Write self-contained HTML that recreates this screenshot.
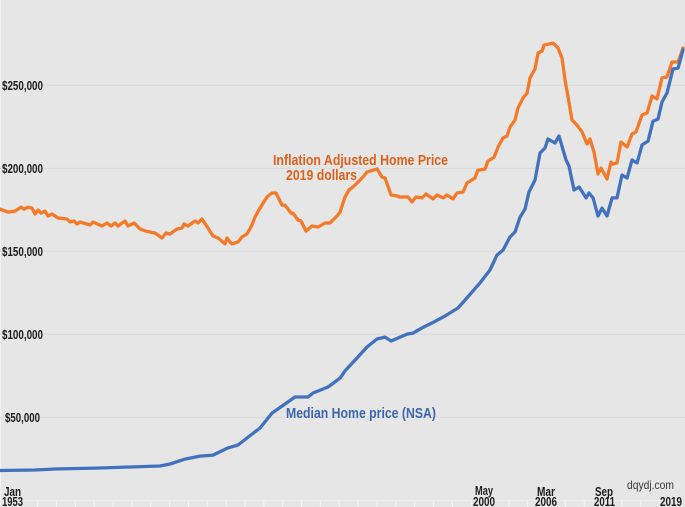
<!DOCTYPE html>
<html lang="en">
<head>
<meta charset="utf-8">
<title>Median and Inflation Adjusted Home Price</title>
<style>
html,body{margin:0;padding:0;background:#e6e6e6;overflow:hidden}
#chart{display:block;width:685px;height:507px;font-family:"Liberation Sans",sans-serif;filter:blur(0.35px)}
.lab{font-weight:bold;font-size:13px;fill:#1c1c1c}
.note{font-weight:bold;font-size:15px}
</style>
</head>
<body>
<svg id="chart" xmlns="http://www.w3.org/2000/svg" width="685" height="507" viewBox="0 0 685 507">
<rect x="0" y="0" width="685" height="507" fill="#e6e6e6"/>
<rect x="0" y="0" width="0.8" height="507" fill="#f4f4f4"/>
<g id="grid"></g>
<g id="ticks"></g>
<g id="ylabels"></g>
<path id="orange-line" fill="none" stroke="#f47a2a" stroke-width="3.3" stroke-linejoin="round" stroke-linecap="round"/>
<path id="blue-line" fill="none" stroke="#4271bd" stroke-width="3.3" stroke-linejoin="round" stroke-linecap="round"/>
<g>
<text class="note" x="273" y="165" fill="#dc611c" textLength="175" lengthAdjust="spacingAndGlyphs">Inflation Adjusted Home Price</text>
<text class="note" x="286" y="180" fill="#dc611c" textLength="71" lengthAdjust="spacingAndGlyphs">2019 dollars</text>
<text class="note" x="286" y="418" fill="#3d66ae" textLength="150" lengthAdjust="spacingAndGlyphs">Median Home price (NSA)</text>
</g>
<g>
<text class="lab" x="4" y="496" textLength="17" lengthAdjust="spacingAndGlyphs">Jan</text>
<text class="lab" x="2" y="506" textLength="21" lengthAdjust="spacingAndGlyphs">1953</text>
<text class="lab" x="475" y="495" textLength="18" lengthAdjust="spacingAndGlyphs">May</text>
<text class="lab" x="473" y="506" textLength="22" lengthAdjust="spacingAndGlyphs">2000</text>
<text class="lab" x="537" y="496" textLength="18" lengthAdjust="spacingAndGlyphs">Mar</text>
<text class="lab" x="535" y="506" textLength="22" lengthAdjust="spacingAndGlyphs">2006</text>
<text class="lab" x="595" y="496" textLength="18" lengthAdjust="spacingAndGlyphs">Sep</text>
<text class="lab" x="594" y="506" textLength="21" lengthAdjust="spacingAndGlyphs">2011</text>
<text class="lab" x="660" y="506" textLength="22" lengthAdjust="spacingAndGlyphs">2019</text>
</g>
<text x="627" y="489" font-size="12" fill="#3a3a3a" textLength="47" lengthAdjust="spacingAndGlyphs">dqydj.com</text>
</svg>
<script>
const yTickValues = [50000, 100000, 150000, 200000, 250000];
const yTickLabels = ["$50,000", "$100,000", "$150,000", "$200,000", "$250,000"];

const medianYears = [1953.0,1956.4,1958.35,1962.73,1965.65,1968.56,1969.54,1971.0,1972.46,1973.72,1975.18,1976.15,1977.03,1978.29,1979.46,1980.72,1981.7,1982.96,1983.45,1984.91,1986.08,1986.56,1987.73,1988.7,1989.67,1990.45,1991.04,1992.59,1993.18,1994.05,1995.03,1996.29,1997.55,1998.24,1999.69,2000.67,2001.35,2001.93,2002.61,2003.1,2003.59,2004.07,2004.46,2005.04,2005.53,2006.02,2006.31,2006.99,2007.38,2008.06,2008.35,2008.84,2009.33,2010.01,2010.3,2010.69,2011.17,2011.56,2012.05,2012.54,2013.02,2013.51,2014.0,2014.48,2014.97,2015.45,2016.04,2016.52,2017.01,2017.4,2017.88,2018.47,2018.96,2019.44];
const medianValues = [18000,18300,18900,19500,20100,20700,21900,24900,26700,27300,31600,33400,37600,43600,52600,58100,62300,62300,64700,68300,73700,78000,85800,92400,97200,98400,96000,100200,100800,103900,106900,111100,115900,120700,131000,138800,147800,150800,158700,161700,170700,175500,185800,193000,209300,212300,217700,215300,219500,205100,201400,187000,188800,182200,185200,182200,171300,176100,171300,182200,182200,196000,194200,205100,203300,214100,216500,228500,229700,240000,245400,259900,260500,271300];

const adjustedYears = [1953.0,1953.78,1954.46,1955.04,1955.33,1955.72,1956.11,1956.4,1956.7,1956.99,1957.38,1957.67,1958.06,1958.64,1959.52,1959.81,1960.2,1960.49,1960.78,1961.76,1962.05,1962.92,1963.41,1963.8,1964.19,1964.48,1965.16,1965.45,1966.04,1966.62,1967.11,1968.08,1968.76,1969.15,1969.54,1970.22,1970.71,1970.9,1971.29,1971.97,1972.26,1972.65,1973.23,1973.72,1974.21,1974.89,1975.08,1975.37,1975.57,1976.15,1976.54,1977.03,1977.51,1977.81,1978.29,1978.97,1979.46,1979.85,1980.43,1980.72,1981.31,1981.5,1981.99,1982.28,1982.77,1983.35,1983.94,1984.62,1985.1,1985.78,1986.08,1986.56,1986.95,1987.34,1987.83,1988.31,1988.7,1989.67,1990.16,1990.45,1991.04,1991.62,1991.91,1992.4,1992.69,1993.08,1993.47,1994.05,1994.44,1995.12,1995.51,1996.1,1996.48,1997.07,1997.46,1998.04,1998.43,1999.21,1999.5,2000.18,2000.47,2001.06,2001.45,2001.93,2002.32,2002.61,2003.1,2003.39,2003.88,2004.27,2004.56,2005.04,2005.34,2005.73,2005.92,2006.8,2007.28,2007.67,2007.96,2008.26,2008.64,2009.13,2009.62,2010.1,2010.39,2010.78,2011.17,2011.47,2012.05,2012.44,2012.63,2013.02,2013.41,2014.0,2014.48,2014.87,2015.45,2015.94,2016.43,2016.91,2017.4,2017.88,2018.37,2018.96,2019.44];
const adjustedValues = [175500,173700,174300,176700,175500,176700,176100,172500,174900,173100,174300,171300,172500,170100,169500,167700,168300,166500,167700,165900,167700,165300,167100,165300,167100,165300,168300,165300,167100,163500,162300,161100,158100,161100,160500,163500,164100,166500,165300,168300,167100,169500,164100,159300,158100,154500,158100,155700,154500,155700,158700,160500,165900,170700,176100,182800,185200,185200,177900,177900,173100,173100,168900,168300,162300,165300,164700,167100,167100,171300,173700,182800,187000,188800,191800,194800,197800,199700,194800,194200,184000,183400,182800,182800,182800,179800,182800,182200,184600,181600,184000,182200,184000,181600,185200,185800,191200,194200,199000,199600,204400,206800,212900,218300,219500,224900,229100,236400,242400,245400,254500,259900,269500,270700,274300,275500,272500,266500,253300,243000,229100,226100,221900,214700,217700,209900,196600,200200,193600,203800,202600,203300,215900,212900,220700,221900,232200,233400,243600,241800,254500,255100,264100,264100,272500];

const NS = "http://www.w3.org/2000/svg";
function xScale(year) { return (year - 1953) * 10.28; }
function yScale(value) { return 500.4 - value * 83 / 50000; }
function linePath(years, values) {
  return years.map(function (yr, i) {
    return (i ? "L" : "M") + xScale(yr).toFixed(1) + " " + yScale(values[i]).toFixed(1);
  }).join("");
}

document.getElementById("orange-line").setAttribute("d", linePath(adjustedYears, adjustedValues));
document.getElementById("blue-line").setAttribute("d", linePath(medianYears, medianValues));

const grid = document.getElementById("grid");
const ylabels = document.getElementById("ylabels");
yTickValues.forEach(function (v, i) {
  const y = yScale(v);
  const line = document.createElementNS(NS, "line");
  
  
  line.setAttribute("x1", 0);
  line.setAttribute("x2", 685);
  line.setAttribute("y1", y);
  line.setAttribute("y2", y);
  line.setAttribute("stroke", "#dcdcdc");
  line.setAttribute("stroke-width", "1.2");
  grid.appendChild(line);
  const t = document.createElementNS(NS, "text");
  
  
  t.setAttribute("class", "lab");
  t.setAttribute("x", i === 0 ? 5 : 2);
  t.setAttribute("y", y + 4.5);
  t.setAttribute("textLength", i === 0 ? 35 : 41);
  t.setAttribute("lengthAdjust", "spacingAndGlyphs");
  t.textContent = yTickLabels[i];
  ylabels.appendChild(t);
});

const ticks = document.getElementById("ticks");
const baseline = document.createElementNS(NS, "line");


baseline.setAttribute("x1", 0);
baseline.setAttribute("x2", 685);
baseline.setAttribute("y1", 500.5);
baseline.setAttribute("y2", 500.5);
baseline.setAttribute("stroke", "#ededed");
ticks.appendChild(baseline);
for (let yr = 1953; xScale(yr) < 685; yr += 22 / 12) {
  const tick = document.createElementNS(NS, "line");
  
  
  tick.setAttribute("x1", xScale(yr));
  tick.setAttribute("x2", xScale(yr));
  tick.setAttribute("y1", 501);
  tick.setAttribute("y2", 507);
  tick.setAttribute("stroke", "#f4f4f4");
  ticks.appendChild(tick);
}
</script>
</body>
</html>
